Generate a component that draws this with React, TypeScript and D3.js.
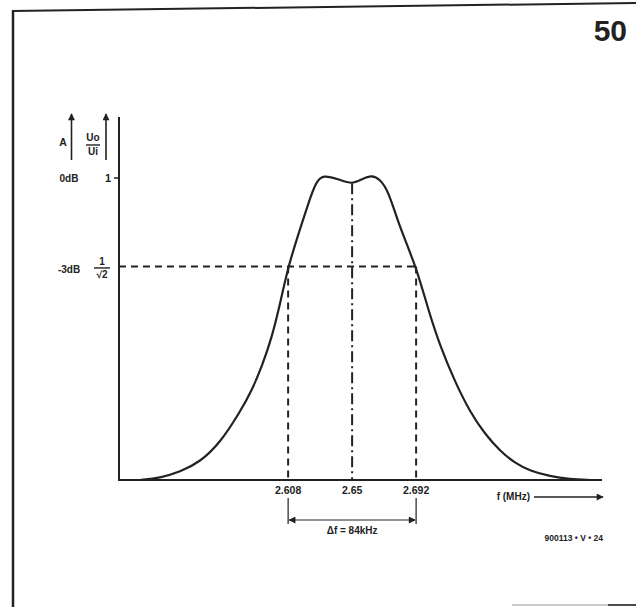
import React, { useEffect, useRef } from 'react';
import * as d3 from 'd3';

// response curve (f in MHz, Uo/Ui)
const freqMHz = [
  2.5108, 2.5239, 2.537, 2.5502, 2.5633, 2.5764, 2.5843, 2.5909, 2.5974, 2.6027, 2.608, 2.6158,
  2.6237, 2.627, 2.6309, 2.6407, 2.65, 2.6565, 2.6631, 2.6683, 2.6736, 2.6814, 2.692,
  2.7, 2.7077, 2.7175, 2.7274, 2.7372, 2.7471, 2.7569, 2.7667, 2.7799, 2.793, 2.8061,
];
const gain = [
  0.0, 0.0066, 0.0265, 0.0596, 0.1225, 0.2252, 0.298, 0.3775, 0.4735, 0.5828, 0.707, 0.831,
  0.954, 0.99, 1.01, 0.997, 0.978, 0.997, 1.01, 0.995, 0.96, 0.834, 0.707,
  0.563, 0.444, 0.325, 0.225, 0.152, 0.096, 0.056, 0.03, 0.012, 0.003, 0.0,
];
const tickFreqs = [2.608, 2.65, 2.692];
const tickLabels = ['2.608', '2.65', '2.692'];
const bandEdges = [2.608, 2.692];
const centerFreq = 2.65;
const halfPower = 1 / Math.SQRT2;
const dipGain = 0.983;

const FONT = '"Liberation Sans", Arial, Helvetica, sans-serif';

const App: React.FC = () => {
  const svgRef = useRef<SVGSVGElement>(null);

  useEffect(() => {
    if (!svgRef.current) return;
    const svg = d3.select(svgRef.current);
    svg.selectAll('*').remove();

    const W = 636, H = 607;
    svg.attr('width', W).attr('height', H);
    svg.append('rect').attr('width', W).attr('height', H).attr('fill', '#fff');

    const defs = svg.append('defs');
    defs.append('marker').attr('id', 'ah').attr('viewBox', '0 0 10 10').attr('refX', 9).attr('refY', 5)
      .attr('markerWidth', 9).attr('markerHeight', 7).attr('markerUnits', 'userSpaceOnUse').attr('orient', 'auto-start-reverse')
      .append('path').attr('d', 'M0,0 L10,5 L0,10 Z').attr('fill', '#222');

    const ink = '#222';

    // page frame
    svg.append('line').attr('x1', 12).attr('y1', 11).attr('x2', 636).attr('y2', 3).attr('stroke', ink).attr('stroke-width', 2);
    svg.append('line').attr('x1', 13).attr('y1', 10).attr('x2', 13).attr('y2', 607).attr('stroke', ink).attr('stroke-width', 2.5);
    svg.append('line').attr('x1', 512).attr('y1', 605).attr('x2', 636).attr('y2', 605).attr('stroke', '#bbb').attr('stroke-width', 1.5);
    svg.append('line').attr('x1', 608).attr('y1', 605).attr('x2', 636).attr('y2', 605).attr('stroke', ink).attr('stroke-width', 1.5);

    svg.append('text').attr('x', 627).attr('y', 41).attr('text-anchor', 'end').attr('font-family', FONT)
      .attr('font-weight', 'bold').attr('font-size', 30).attr('fill', ink).text('50');

    const x = d3.scaleLinear().domain([2.497, 2.814]).range([119, 602]);
    const y = d3.scaleLinear().domain([0, 1]).range([480, 178]);

    // axes
    svg.append('line').attr('x1', x(2.497)).attr('y1', 117).attr('x2', x(2.497)).attr('y2', y(0) + 1)
      .attr('stroke', ink).attr('stroke-width', 2);
    svg.append('line').attr('x1', x(2.497)).attr('y1', y(0)).attr('x2', x(2.814)).attr('y2', y(0))
      .attr('stroke', ink).attr('stroke-width', 2);

    // y tick at 1
    svg.append('line').attr('x1', x(2.497) - 5).attr('x2', x(2.497)).attr('y1', y(1)).attr('y2', y(1))
      .attr('stroke', ink).attr('stroke-width', 1.5);

    const txt = (tx: number, ty: number, s: string, size = 9, anchor = 'middle') =>
      svg.append('text').attr('x', tx).attr('y', ty).attr('text-anchor', anchor).attr('dominant-baseline', 'middle')
        .attr('font-family', FONT).attr('font-weight', 'bold').attr('font-size', size).attr('fill', ink).text(s);

    txt(111, y(1) + 1, '1', 11, 'end');
    txt(69, y(1) + 1, '0dB', 10);
    txt(69, y(halfPower) + 4, '-3dB', 10);
    // 1/sqrt2
    txt(102, y(halfPower) - 4, '1', 10);
    svg.append('line').attr('x1', 94).attr('x2', 110).attr('y1', y(halfPower) + 1.5).attr('y2', y(halfPower) + 1.5)
      .attr('stroke', ink).attr('stroke-width', 1.4);
    txt(102, y(halfPower) + 9, '√2', 10);

    // quantity arrows
    svg.append('line').attr('x1', 71.5).attr('x2', 71.5).attr('y1', 160).attr('y2', 114)
      .attr('stroke', ink).attr('stroke-width', 1.6).attr('marker-end', 'url(#ah)');
    txt(63, 143, 'A', 10.5);
    svg.append('line').attr('x1', 106).attr('x2', 106).attr('y1', 160).attr('y2', 114)
      .attr('stroke', ink).attr('stroke-width', 1.6).attr('marker-end', 'url(#ah)');
    txt(93, 138, 'Uo', 10);
    svg.append('line').attr('x1', 86).attr('x2', 100).attr('y1', 145).attr('y2', 145).attr('stroke', ink).attr('stroke-width', 1.4);
    txt(93, 152, 'Ui', 10);

    // -3 dB guides
    svg.append('line').attr('x1', x(2.497)).attr('x2', x(bandEdges[1])).attr('y1', y(halfPower)).attr('y2', y(halfPower))
      .attr('stroke', ink).attr('stroke-width', 2).attr('stroke-dasharray', '7,5');
    bandEdges.forEach(f => {
      svg.append('line').attr('x1', x(f)).attr('x2', x(f)).attr('y1', y(halfPower)).attr('y2', y(0))
        .attr('stroke', ink).attr('stroke-width', 2).attr('stroke-dasharray', '7,5');
      svg.append('line').attr('x1', x(f)).attr('x2', x(f)).attr('y1', y(0) + 18).attr('y2', y(0) + 44)
        .attr('stroke', ink).attr('stroke-width', 1.2);
    });
    svg.append('line').attr('x1', x(centerFreq)).attr('x2', x(centerFreq)).attr('y1', y(dipGain)).attr('y2', y(0))
      .attr('stroke', ink).attr('stroke-width', 2).attr('stroke-dasharray', '11,4,2,4');

    // x tick labels
    tickFreqs.forEach((f, i) => txt(x(f), y(0) + 11, tickLabels[i], 10.5));

    // bandwidth arrow
    svg.append('line').attr('x1', x(bandEdges[0]) + 1).attr('x2', x(bandEdges[1]) - 1).attr('y1', y(0) + 40).attr('y2', y(0) + 40)
      .attr('stroke', ink).attr('stroke-width', 1.2).attr('marker-start', 'url(#ah)').attr('marker-end', 'url(#ah)');
    txt((x(bandEdges[0]) + x(bandEdges[1])) / 2, y(0) + 51, 'Δf = 84kHz', 10);

    // f axis label
    txt(530, y(0) + 17, 'f (MHz)', 10, 'end');
    svg.append('line').attr('x1', 534).attr('x2', 603).attr('y1', y(0) + 17).attr('y2', y(0) + 17)
      .attr('stroke', ink).attr('stroke-width', 1.6).attr('marker-end', 'url(#ah)');

    txt(603, y(0) + 59, '900113 • V • 24', 8.5, 'end');

    // response curve
    const pts = freqMHz.map((f, i) => [f, gain[i]] as [number, number]);
    const line = d3.line<[number, number]>().x(d => x(d[0])).y(d => y(d[1])).curve(d3.curveBasis);
    svg.append('path').attr('d', line(pts)).attr('fill', 'none').attr('stroke', ink).attr('stroke-width', 2.2);
  }, []);

  return (
    <div style={{ position: 'absolute', left: 0, top: 0, width: 636, height: 607, background: '#fff' }}>
      <svg ref={svgRef} style={{ display: 'block' }}></svg>
    </div>
  );
};

export default App;
